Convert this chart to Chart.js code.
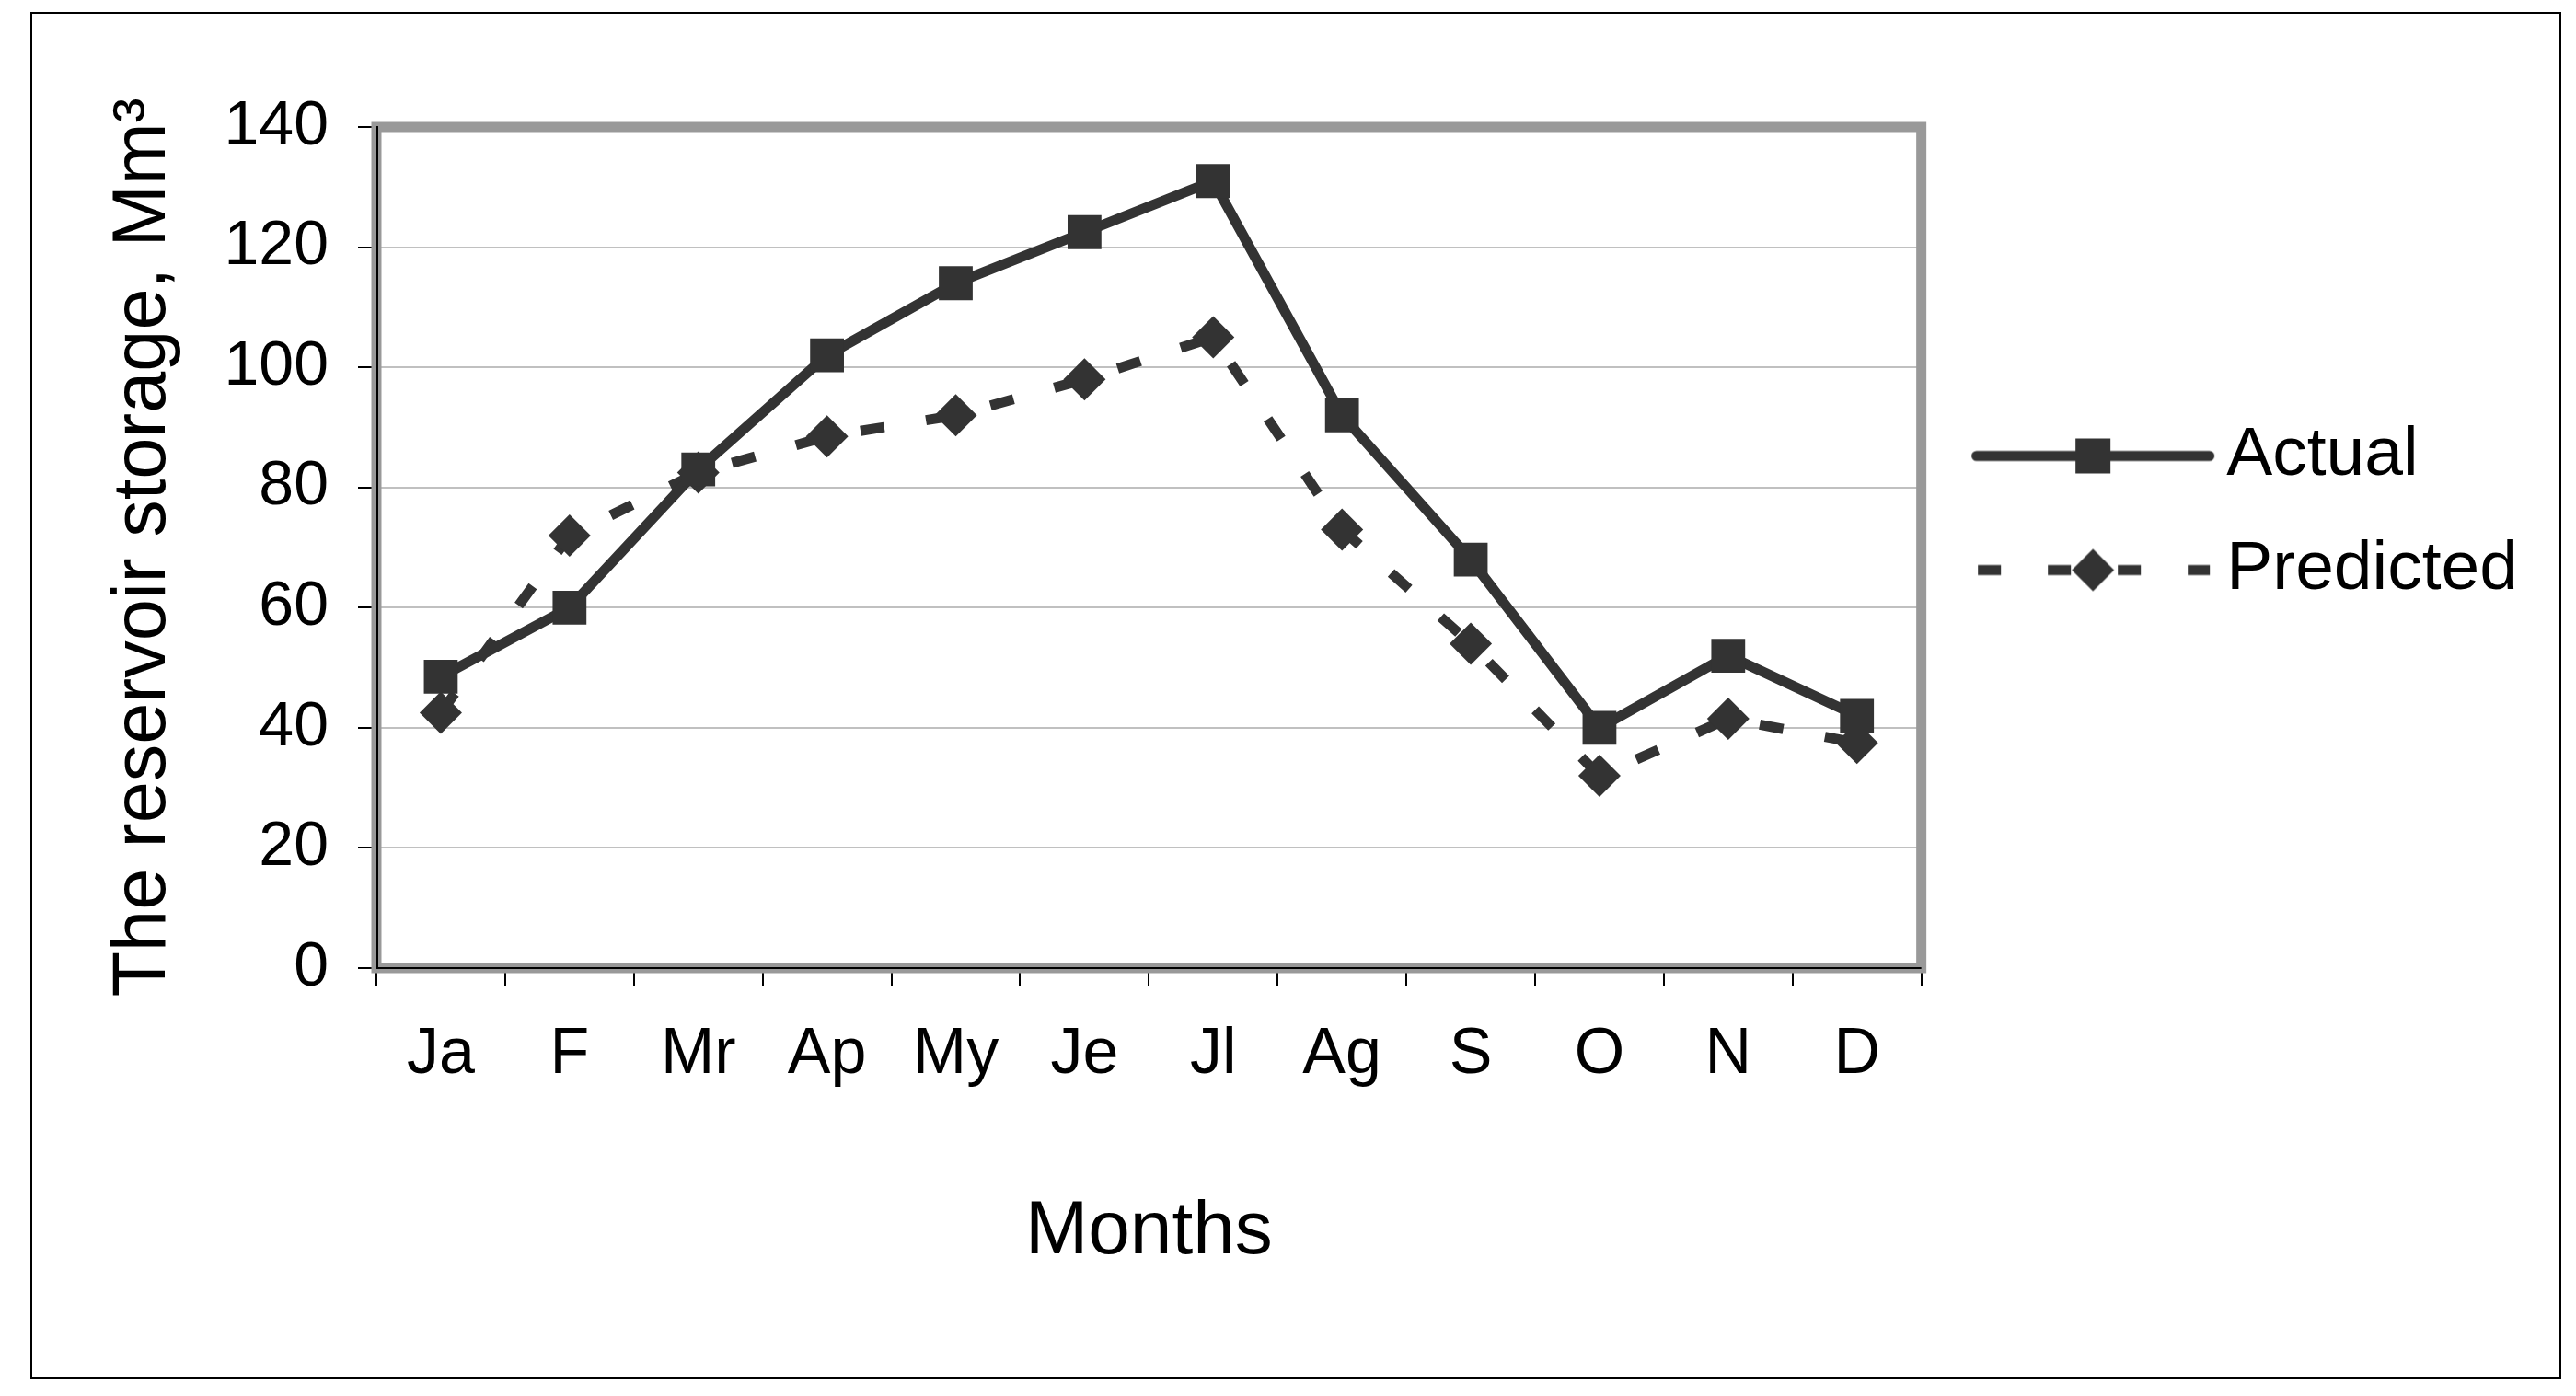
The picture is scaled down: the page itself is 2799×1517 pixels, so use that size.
<!DOCTYPE html>
<html>
<head>
<meta charset="utf-8">
<title>Reservoir storage</title>
<script src="https://cdn.jsdelivr.net/npm/chart.js@4.4.1/dist/chart.umd.min.js"></script>
<style>
  html, body { margin: 0; padding: 0; background: #fff; }
  #wrap { position: relative; width: 2799px; height: 1517px; }
  #frame {
    position: absolute; left: 33px; top: 13px; width: 2750px; height: 1485px;
    border: 2px solid #000; box-sizing: border-box; pointer-events: none;
  }
</style>
</head>
<body>
<div id="wrap">
  <canvas id="storageChart" width="2799" height="1517"></canvas>
  <div id="frame"></div>
</div>
<script>
const months = ['Ja', 'F', 'Mr', 'Ap', 'My', 'Je', 'Jl', 'Ag', 'S', 'O', 'N', 'D'];
const actualStorage = [48.5, 60, 83, 102, 114, 122.5, 131, 92, 68, 40, 52, 42];
const predictedStorage = [42.5, 72, 82.5, 88.5, 92, 98, 105, 73, 54, 32, 41.5, 37.5];
const yTicks = [0, 20, 40, 60, 80, 100, 120, 140];

const FONT = "'Liberation Sans', Arial, sans-serif";
const INK = '#333333';

// legend sample: line + marker, like the spreadsheet legend
function legendIcon(dashed, marker) {
    const c = document.createElement('canvas');
    c.width = 300;
    c.height = 60;
    const g = c.getContext('2d');
    g.strokeStyle = INK;
    g.fillStyle = INK;
    g.lineWidth = 11;
    g.beginPath();
    if (dashed) {
        g.lineCap = 'butt';
        g.setLineDash([25, 51]);
        g.moveTo(40, 30);
        g.lineTo(292, 30);
    } else {
        g.lineCap = 'round';
        g.moveTo(38.5, 30);
        g.lineTo(291.5, 30);
    }
    g.stroke();
    g.setLineDash([]);
    const cx = 165, cy = 30;
    g.beginPath();
    if (marker === 'square') {
        g.rect(cx - 19, cy - 19, 38, 38);
    } else {
        g.moveTo(cx, cy - 23);
        g.lineTo(cx + 23, cy);
        g.lineTo(cx, cy + 23);
        g.lineTo(cx - 23, cy);
        g.closePath();
    }
    g.fill();
    return c;
}
const legendIcons = [legendIcon(false, 'square'), legendIcon(true, 'diamond')];

const plotFrame = {
    id: 'plotFrame',
    beforeDatasetsDraw(chart) {
        const { ctx, chartArea: a } = chart;
        ctx.save();
        ctx.strokeStyle = '#999999';
        ctx.lineWidth = 11;
        ctx.strokeRect(a.left, a.top, a.right - a.left, a.bottom - a.top);
        ctx.strokeStyle = '#000';
        ctx.lineWidth = 2;
        ctx.beginPath();
        ctx.moveTo(a.left + 1, a.top - 1);
        ctx.lineTo(a.left + 1, a.bottom);
        ctx.lineTo(a.right, a.bottom);
        ctx.stroke();
        ctx.restore();
    }
};

new Chart(document.getElementById('storageChart'), {
    type: 'line',
    plugins: [plotFrame],
    data: {
        labels: months,
        datasets: [
            {
                label: 'Actual',
                data: actualStorage,
                borderColor: INK,
                borderWidth: 11,
                tension: 0,
                pointStyle: 'rect',
                pointRadius: 26,
                pointBackgroundColor: INK,
                pointBorderColor: INK,
                pointBorderWidth: 0
            },
            {
                label: 'Predicted',
                data: predictedStorage,
                borderColor: INK,
                borderWidth: 11,
                borderDash: [26, 46],
                tension: 0,
                pointStyle: 'rectRot',
                pointRadius: 23,
                pointBackgroundColor: INK,
                pointBorderColor: INK,
                pointBorderWidth: 0
            }
        ]
    },
    options: {
        responsive: false,
        animation: false,
        events: [],
        layout: { padding: { top: 138, right: 53, bottom: 0, left: 0 } },
        scales: {
            x: {
                offset: true,
                grid: {
                    offset: true,
                    drawOnChartArea: false,
                    drawTicks: true,
                    tickLength: 19,
                    color: '#000',
                    lineWidth: 2
                },
                border: { display: false },
                ticks: {
                    color: '#000',
                    font: { family: FONT, size: 70 },
                    padding: 34,
                    maxRotation: 0,
                    autoSkip: false
                },
                title: {
                    display: true,
                    text: 'Months',
                    color: '#000',
                    font: { family: FONT, size: 82 },
                    padding: { top: 0, bottom: 128 }
                },
                afterFit: s => { s.height = 465; }
            },
            y: {
                min: 0,
                max: 140,
                afterBuildTicks: s => { s.ticks = yTicks.map(v => ({ value: v })); },
                grid: {
                    color: '#c0c0c0',
                    lineWidth: 2,
                    tickColor: '#000',
                    tickLength: 20
                },
                border: { display: false },
                ticks: {
                    color: '#000',
                    font: { family: FONT, size: 68 },
                    padding: 32
                },
                title: {
                    display: true,
                    text: 'The reservoir storage, Mm³',
                    color: '#000',
                    font: { family: FONT, size: 81 },
                    padding: { top: 108, bottom: 0 }
                },
                afterFit: s => { s.width = 409; }
            }
        },
        plugins: {
            tooltip: { enabled: false },
            legend: {
                position: 'right',
                align: 'start',
                fullSize: false,
                title: {
                    display: true,
                    text: '',
                    font: { size: 10 },
                    padding: { top: 259, bottom: 0 }
                },
                labels: {
                    usePointStyle: true,
                    pointStyleWidth: 245,
                    padding: 49,
                    color: '#000',
                    font: { family: FONT, size: 75 },
                    generateLabels(chart) {
                        const items = Chart.defaults.plugins.legend.labels.generateLabels(chart);
                        items.forEach((item, i) => { item.pointStyle = legendIcons[i]; });
                        return items;
                    }
                }
            }
        }
    }
});
</script>
</body>
</html>
